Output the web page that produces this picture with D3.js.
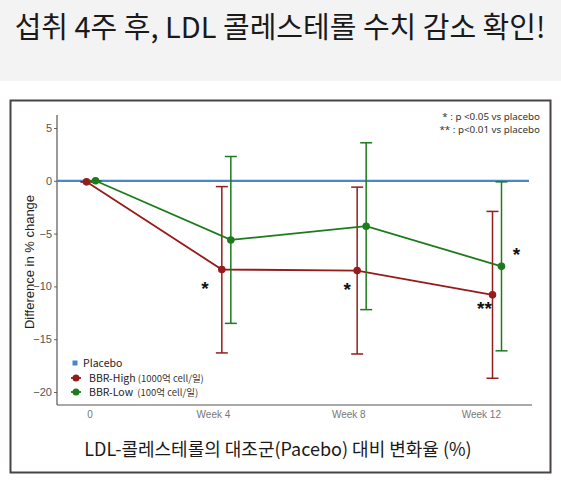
<!DOCTYPE html>
<html>
<head>
<meta charset="utf-8">
<script src="https://cdn.jsdelivr.net/npm/d3@7"></script>
<style>
  body { margin: 0; background: #fff; }
  svg { display: block; }
</style>
</head>
<body>
<div id="chart"></div>
<script>
// data
const weeks = [0, 4, 8, 12];
const tickLabels = ["0", "Week 4", "Week 8", "Week 12"];
const yTicks = [5, 0, -5, -10, -15, -20];

const highMean  = [-0.1, -8.4, -8.5, -10.8];
const highLower = [-0.1, -16.3, -16.4, -18.7];
const highUpper = [-0.1, -0.55, -0.6, -2.9];

const lowMean  = [0, -5.6, -4.3, -8.1];
const lowLower = [0, -13.5, -12.2, -16.1];
const lowUpper = [0, 2.3, 3.6, -0.1];

const placeboValue = 0;

// significance marks: series, week index, label
const sigSeries = ["high", "high", "high", "low"];
const sigWeekIdx = [1, 2, 3, 3];
const sigText = ["*", "*", "**", "*"];

const W = 561, H = 482;
const colors = { high: "#961b1b", low: "#1d7a1d", placebo: "#4a87c9" };
const dodge = { high: -4.5, low: 4.5 };
// pixel nudges for the stars around their points
const sigNudge = [[-17, 15], [-10, 15], [-8, 10], [15, -15]];

const svg = d3.select("#chart").append("svg")
    .attr("width", W)
    .attr("height", H);

// top grey band + title
svg.append("rect").attr("x", 0).attr("y", 0).attr("width", W).attr("height", 81).attr("fill", "#f3f3f3");
svg.append("text")
    .attr("x", 280).attr("y", 38)
    .attr("text-anchor", "middle")
    .style("font-family", "'Noto Sans CJK KR', 'Noto Sans', sans-serif")
    .style("font-size", "29px")
    .style("font-weight", 400)
    .attr("fill", "#1a1a1a")
    .text("섭취 4주 후, LDL 콜레스테롤 수치 감소 확인!");

// frame
svg.append("rect")
    .attr("x", 10.5).attr("y", 100.5).attr("width", 540).attr("height", 372)
    .attr("fill", "#fff").attr("stroke", "#4a4343").attr("stroke-width", 2);

const x = d3.scaleLinear().domain([0, 12]).range([91, 497]);
const y = d3.scaleLinear().domain([-20, 5]).range([392, 128]);

const plotLeft = 57, plotRight = 532, plotTop = 115, plotBottom = 405;

// axes
const yAxis = svg.append("g")
    .attr("transform", `translate(${plotLeft},0)`)
    .call(d3.axisLeft(y).tickValues(yTicks).tickSize(3).tickPadding(2));
yAxis.select(".domain").remove();
yAxis.selectAll("line").attr("stroke", "#666");
yAxis.selectAll("text")
    .style("font-family", "'Liberation Sans', Arial, sans-serif")
    .style("font-size", "11px")
    .attr("fill", "#555");
svg.append("line")
    .attr("x1", plotLeft).attr("x2", plotLeft)
    .attr("y1", plotTop).attr("y2", plotBottom)
    .attr("stroke", "#555").attr("stroke-width", 1.2);

svg.append("line")
    .attr("x1", plotLeft).attr("x2", plotRight)
    .attr("y1", plotBottom).attr("y2", plotBottom)
    .attr("stroke", "#555").attr("stroke-width", 1.2);

svg.selectAll("text.xtick")
    .data(weeks)
    .enter().append("text")
    .attr("class", "xtick")
    .attr("x", (d, i) => i == 0 ? x(d) - 1 : x(d) + 4)
    .attr("y", 418)
    .attr("text-anchor", (d, i) => i == 0 ? "middle" : "end")
    .style("font-family", "'Liberation Sans', Arial, sans-serif")
    .style("font-size", "10px")
    .attr("fill", "#777")
    .text((d, i) => tickLabels[i]);

svg.append("text")
    .attr("transform", "translate(34,262) rotate(-90)")
    .attr("text-anchor", "middle")
    .style("font-family", "'Liberation Sans', Arial, sans-serif")
    .style("font-size", "13px")
    .attr("fill", "#222")
    .text("Difference in % change");

// placebo line
svg.append("line")
    .attr("x1", plotLeft).attr("x2", 529)
    .attr("y1", y(placeboValue)).attr("y2", y(placeboValue))
    .attr("stroke", colors.placebo).attr("stroke-width", 2.2);

function buildSeries(mean, lower, upper) {
    return weeks.map((w, i) => ({ week: w, mean: mean[i], lower: lower[i], upper: upper[i] }));
}
const series = [
    { key: "high", values: buildSeries(highMean, highLower, highUpper) },
    { key: "low", values: buildSeries(lowMean, lowLower, lowUpper) }
];

const line = d3.line()
    .x(d => x(d.week))
    .y(d => y(d.mean));

series.forEach(function (s) {
    let g = svg.append("g").attr("transform", `translate(${dodge[s.key]},0)`);
    let c = colors[s.key];

    // error bars
    let eb = g.selectAll("g.err").data(s.values).enter().append("g").attr("class", "err");
    eb.append("line")
        .attr("x1", d => x(d.week)).attr("x2", d => x(d.week))
        .attr("y1", d => y(d.upper)).attr("y2", d => y(d.lower))
        .attr("stroke", c).attr("stroke-width", 1.5);
    eb.append("line")
        .attr("x1", d => x(d.week) - 6).attr("x2", d => x(d.week) + 6)
        .attr("y1", d => y(d.upper)).attr("y2", d => y(d.upper))
        .attr("stroke", c).attr("stroke-width", 1.5);
    eb.append("line")
        .attr("x1", d => x(d.week) - 6).attr("x2", d => x(d.week) + 6)
        .attr("y1", d => y(d.lower)).attr("y2", d => y(d.lower))
        .attr("stroke", c).attr("stroke-width", 1.5);

    g.append("path")
        .datum(s.values)
        .attr("d", line)
        .attr("fill", "none")
        .attr("stroke", c)
        .attr("stroke-width", 1.8);

    g.selectAll("circle")
        .data(s.values)
        .enter().append("circle")
        .attr("cx", d => x(d.week))
        .attr("cy", d => y(d.mean))
        .attr("r", 3.8)
        .attr("fill", c);
});

// stars
const means = { high: highMean, low: lowMean };
sigText.forEach(function (t, i) {
    let s = sigSeries[i], k = sigWeekIdx[i];
    svg.append("text")
        .attr("x", x(weeks[k]) + dodge[s] + sigNudge[i][0])
        .attr("y", y(means[s][k]) + sigNudge[i][1] + 10)
        .attr("text-anchor", "middle")
        .style("font-family", "'Liberation Sans', Arial, sans-serif")
        .style("font-size", "19px")
        .style("font-weight", "bold")
        .attr("fill", "#111")
        .text(t);
});

// p-value notes
const notes = ["* : p <0.05 vs placebo", "** : p<0.01 vs placebo"];
svg.selectAll("text.note")
    .data(notes)
    .enter().append("text")
    .attr("class", "note")
    .attr("x", 540)
    .attr("y", (d, i) => 120 + i * 13)
    .attr("text-anchor", "end")
    .style("font-family", "'Noto Sans', sans-serif")
    .style("font-size", "9.8px")
    .attr("fill", "#333")
    .text(d => d);

// legend
const legend = svg.append("g").attr("transform", "translate(75,0)");
legend.append("rect")
    .attr("x", -2.5).attr("y", 360.5).attr("width", 5).attr("height", 5)
    .attr("fill", colors.placebo);
legend.append("text")
    .attr("x", 8).attr("y", 367)
    .style("font-family", "'Noto Sans CJK KR', sans-serif")
    .style("font-size", "10.5px")
    .attr("fill", "#222")
    .text("Placebo");

const legendItems = [
    { key: "high", name: "BBR-High", note: " (1000억 cell/일)", yy: 378 },
    { key: "low", name: "BBR-Low", note: "  (100억 cell/일)", yy: 392 }
];
legendItems.forEach(function (it) {
    legend.append("line")
        .attr("x1", -4).attr("x2", 6)
        .attr("y1", it.yy).attr("y2", it.yy)
        .attr("stroke", colors[it.key]).attr("stroke-width", 1.8);
    legend.append("circle")
        .attr("cx", 1).attr("cy", it.yy).attr("r", 3.5)
        .attr("fill", colors[it.key]);
    let t = legend.append("text")
        .attr("x", 14).attr("y", it.yy + 4)
        .attr("xml:space", "preserve")
        .style("white-space", "pre")
        .style("font-family", "'Noto Sans CJK KR', sans-serif")
        .attr("fill", "#222");
    t.append("tspan").style("font-size", "10.5px").text(it.name);
    t.append("tspan").style("font-size", "9.5px").attr("fill", "#333").text(it.note);
});

// caption
svg.append("text")
    .attr("x", 278).attr("y", 456)
    .attr("text-anchor", "middle")
    .style("font-family", "'Noto Sans CJK KR', sans-serif")
    .style("font-size", "18px")
    .attr("fill", "#1a1a1a")
    .text("LDL-콜레스테롤의 대조군(Pacebo) 대비 변화율 (%)");
</script>
</body>
</html>
